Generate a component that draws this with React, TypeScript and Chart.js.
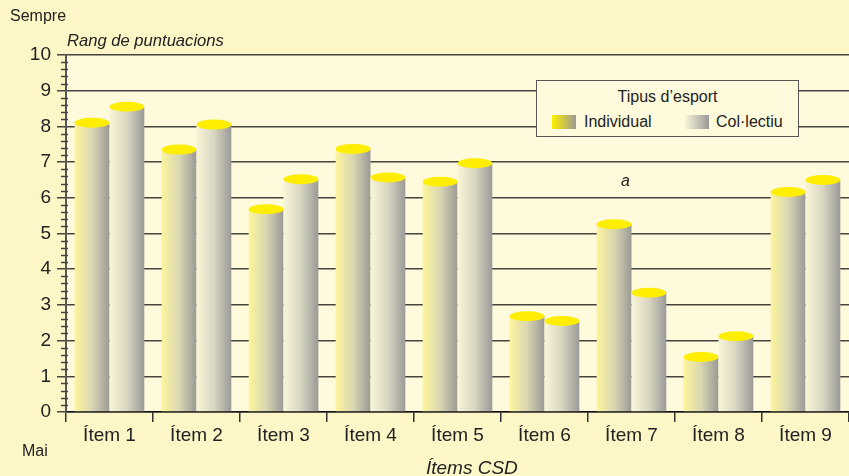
import React, { useEffect, useRef } from "react";
import { Chart, registerables } from "chart.js";

Chart.register(...registerables);

const categories = ["Ítem 1", "Ítem 2", "Ítem 3", "Ítem 4", "Ítem 5", "Ítem 6", "Ítem 7", "Ítem 8", "Ítem 9"];
const individual = [8.1, 7.35, 5.68, 7.37, 6.45, 2.68, 5.26, 1.54, 6.16];
const collectiu = [8.55, 8.05, 6.52, 6.57, 6.97, 2.55, 3.34, 2.12, 6.5];
const seriesNames = ["Individual", "Col·lectiu"];
const yTicks = [0, 1, 2, 3, 4, 5, 6, 7, 8, 9, 10];

const FONT = "'Liberation Sans', Arial, Helvetica, sans-serif";
const OUTER_BG = "#fdf6c6";
const PLOT_BG = "#fefadb";

const gradStops = [
  ["#fdf59c", "#d9d6b2", "#9a9a96"],
  ["#f9f5d8", "#d8d6c0", "#9a9a98"],
];

const cylinderPlugin = {
  id: "cylinders",
  beforeDraw(chart: any) {
    const { ctx, chartArea } = chart;
    ctx.save();
    ctx.fillStyle = PLOT_BG;
    ctx.fillRect(chartArea.left, chartArea.top, chartArea.right - chartArea.left, chartArea.bottom - chartArea.top);
    ctx.restore();
  },
  afterDatasetsDraw(chart: any) {
    const { ctx } = chart;
    chart.data.datasets.forEach((_: any, di: number) => {
      const meta = chart.getDatasetMeta(di);
      meta.data.forEach((el: any) => {
        const { x, y, base, width } = el.getProps(["x", "y", "base", "width"], true);
        const left = x - width / 2;
        const g = ctx.createLinearGradient(left, 0, left + width, 0);
        const st = gradStops[di];
        g.addColorStop(0, st[0]);
        g.addColorStop(0.5, st[1]);
        g.addColorStop(1, st[2]);
        ctx.save();
        ctx.fillStyle = g;
        ctx.fillRect(left, y, width, base - y);
        ctx.beginPath();
        ctx.ellipse(x, y, width / 2, 5, 0, 0, Math.PI * 2);
        ctx.fillStyle = "#ffee00";
        ctx.fill();
        ctx.restore();
      });
    });
  },
  afterDraw(chart: any) {
    const { ctx, scales, chartArea } = chart;
    const ys = scales.y;
    ctx.save();
    ctx.strokeStyle = "#444";
    ctx.lineWidth = 1.5;
    for (let i = 0; i < 50; i++) {
      if (i % 5 === 0) continue;
      const py = Math.round(ys.getPixelForValue(i / 5)) + 0.5;
      ctx.beginPath();
      ctx.moveTo(chartArea.left - 5, py);
      ctx.lineTo(chartArea.left + 2, py);
      ctx.stroke();
    }
    ctx.restore();
  },
};

function App() {
  const ref = useRef<HTMLCanvasElement | null>(null);
  useEffect(() => {
    document.body.style.margin = "0";
    const canvas = ref.current!;
    const chart = new Chart(canvas, {
      type: "bar",
      data: {
        labels: categories,
        datasets: [
          { label: seriesNames[0], data: individual, backgroundColor: "rgba(0,0,0,0)", borderWidth: 0 },
          { label: seriesNames[1], data: collectiu, backgroundColor: "rgba(0,0,0,0)", borderWidth: 0 },
        ],
      },
      options: {
        responsive: false,
        animation: false,
        layout: { padding: { top: 55, left: 0, right: 0, bottom: 0 } },
        datasets: { bar: { categoryPercentage: 0.8, barPercentage: 1 } } as any,
        plugins: { legend: { display: false }, tooltip: { enabled: false } },
        scales: {
          x: {
            grid: { offset: true, drawOnChartArea: false, tickLength: 10, color: "#333", lineWidth: 1.5 },
            border: { color: "#111", width: 1.5 },
            ticks: { font: { size: 19, family: FONT }, color: "#222", padding: 2, maxRotation: 0 },
            afterFit: (s: any) => {
              s.height = 64;
            },
          },
          y: {
            min: 0,
            max: 10,
            afterBuildTicks: (s: any) => {
              s.ticks = yTicks.map((v) => ({ value: v }));
            },
            ticks: { font: { size: 19, family: FONT }, color: "#222", padding: 6 },
            grid: { color: "#45453f", lineWidth: 1.5, tickLength: 9 },
            border: { color: "#555", width: 2 },
            afterFit: (s: any) => {
              s.width = 66;
            },
          },
        },
      },
      plugins: [cylinderPlugin],
    });
    return () => chart.destroy();
  }, []);

  const txt = (extra: React.CSSProperties): React.CSSProperties => ({
    position: "absolute",
    fontFamily: FONT,
    color: "#222",
    lineHeight: 1,
    whiteSpace: "nowrap",
    ...extra,
  });

  const swatch = (i: number, left: number): React.CSSProperties => ({
    position: "absolute",
    left,
    top: 34,
    width: 24,
    height: 14,
    background: `linear-gradient(to right, ${i === 0 ? "#fff000" : gradStops[1][0]}, ${gradStops[i][2]})`,
  });

  return (
    <div style={{ position: "fixed", left: 0, top: 0, width: 849, height: 476, background: OUTER_BG, overflow: "hidden" }}>
      <canvas ref={ref} width={849} height={476} style={{ position: "absolute", left: 0, top: 0, width: 849, height: 476 }} />
      <div style={txt({ left: 10, top: 8, fontSize: 16 })}>Sempre</div>
      <div style={txt({ left: 67, top: 33, fontSize: 16.6, fontStyle: "italic" })}>Rang de puntuacions</div>
      <div style={txt({ left: 22, top: 443, fontSize: 16 })}>Mai</div>
      <div style={txt({ left: 426, top: 458, fontSize: 19, fontStyle: "italic" })}>Ítems CSD</div>
      <div style={txt({ left: 621, top: 173, fontSize: 16, fontStyle: "italic" })}>a</div>
      <div
        style={{
          position: "absolute",
          left: 536,
          top: 80,
          width: 261,
          height: 55,
          background: PLOT_BG,
          border: "1.5px solid #555",
          boxSizing: "content-box",
        }}
      >
        <div style={txt({ left: 0, width: 261, textAlign: "center", top: 8, fontSize: 16 })}>Tipus d’esport</div>
        <div style={swatch(0, 15)} />
        <div style={txt({ left: 47, top: 33, fontSize: 16 })}>{seriesNames[0]}</div>
        <div style={swatch(1, 148)} />
        <div style={txt({ left: 179, top: 33, fontSize: 16 })}>{seriesNames[1]}</div>
      </div>
    </div>
  );
}

export default App;
